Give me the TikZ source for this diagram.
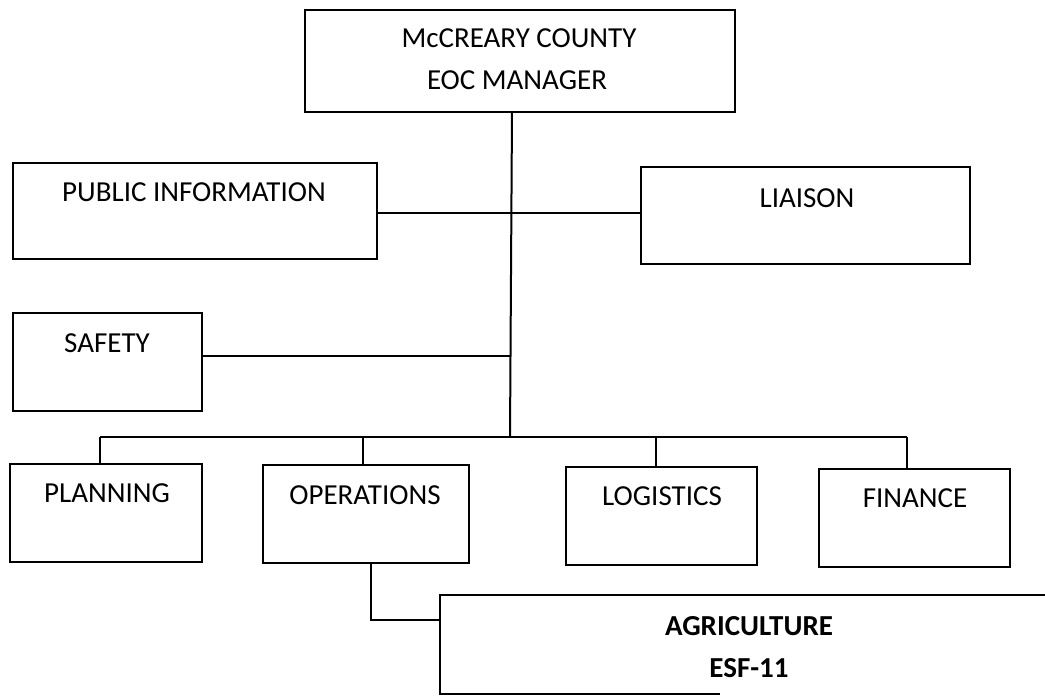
\documentclass[tikz,border=0pt]{standalone}
\usepackage{fontspec}
\setmainfont{Carlito}
\begin{document}
\begin{tikzpicture}[x=1pt,y=-1pt,
  box/.style={draw=black,line width=2.2pt},
  lbl/.style={anchor=base,inner sep=0pt,font=\fontsize{29}{34}\selectfont},
  blbl/.style={lbl,font=\fontsize{29}{34}\selectfont\bfseries},
  conn/.style={draw=black,line width=2pt}]
\useasboundingbox (0,0) rectangle (1045,696);
% boxes
\draw[box] (305,10) rectangle (735,112);
\coordinate (topS) at (512,112);
\draw[box] (13,163) rectangle (377,259);
\coordinate (piE) at (377,213);
\draw[box] (641,167) rectangle (970,264);
\coordinate (liW) at (641,213);
\draw[box] (13,313) rectangle (202,411);
\coordinate (saE) at (202,356);
\draw[box] (10,464) rectangle (202,562);
\coordinate (plN) at (100,464);
\draw[box] (263,465) rectangle (469,563);
\coordinate (opN) at (363,465);
\coordinate (opS) at (371,563);
\draw[box] (566,467) rectangle (757,565);
\coordinate (loN) at (656,467);
\draw[box] (819,469) rectangle (1010,567);
\coordinate (fiN) at (907,469);
\draw[box] (1050,595) -- (440,595) -- (440,694) -- (720,694);
\coordinate (agW) at (440,620);
% texts
\node[lbl] (t1) at (519,47) {McCREARY COUNTY};
\node[lbl] (t2) at (517,89) {EOC MANAGER};
\node[lbl] (tpi) at (194,201) {PUBLIC INFORMATION};
\node[lbl] (tli) at (807,207) {LIAISON};
\node[lbl] (tsa) at (107,352) {SAFETY};
\node[lbl] (tpl) at (107,502) {PLANNING};
\node[lbl] (top) at (365,504) {OPERATIONS};
\node[lbl] (tlo) at (662,505) {LOGISTICS};
\node[lbl] (tfi) at (915,507) {FINANCE};
\node[blbl] (tag) at (749,635) {AGRICULTURE};
\node[blbl] (tes) at (749,677) {ESF-11};
% connectors
\coordinate (busT) at (510,437);
\coordinate (busL) at (100,437);
\coordinate (busR) at (907,437);
\draw[conn] (topS) -- (busT);
\draw[conn] (piE) -- (liW);
\draw[conn] (saE) -- (510,356);
\draw[conn] (busL) -- (busR);
\draw[conn] (plN) -- (busL);
\draw[conn] (opN) -- (opN |- busT);
\draw[conn] (loN) -- (loN |- busT);
\draw[conn] (fiN) -- (busR);
\draw[conn] (opS) |- (agW);
\end{tikzpicture}
\end{document}
